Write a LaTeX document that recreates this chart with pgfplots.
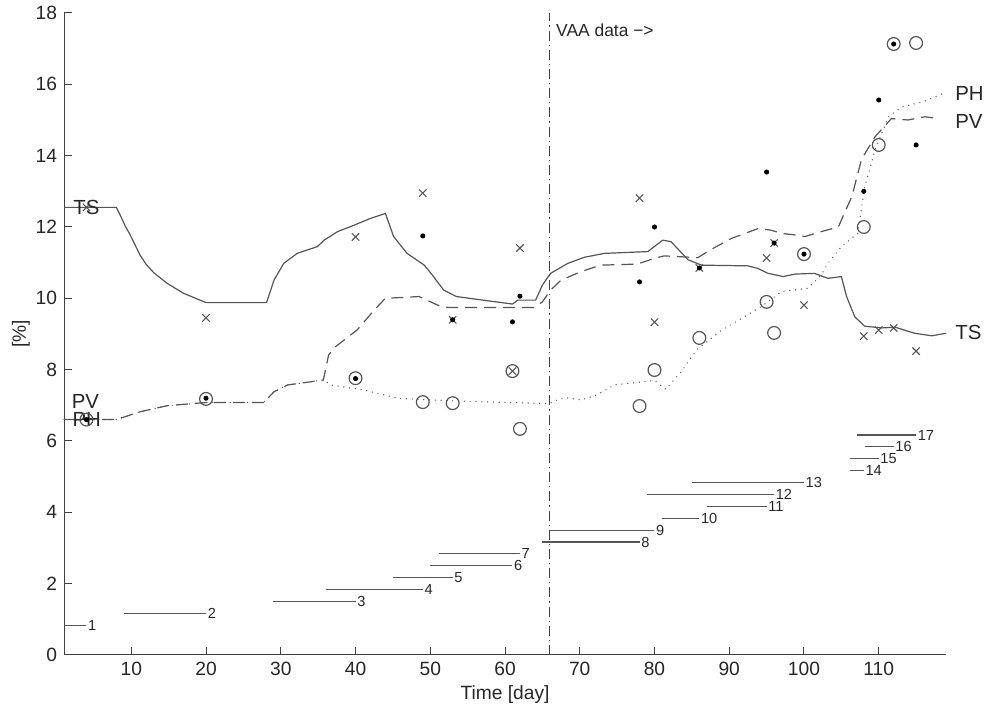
\documentclass[border=0pt]{standalone}
\usepackage{pgfplots}
\pgfplotsset{compat=1.18}
\usepackage{fontspec}
\setmainfont{Liberation Sans}
\definecolor{lc}{HTML}{555555}
\definecolor{ax}{HTML}{404040}
\tikzset{
  seg/.style={lc, line width=0.55pt},
  segl/.style={font=\fontsize{7.3}{9}\selectfont, anchor=west, inner sep=0.6pt, text=black!85},
  lab/.style={anchor=west, inner sep=0pt, font=\fontsize{10.2}{12}\selectfont, text=black!85},
}
\begin{document}
\begin{tikzpicture}
\useasboundingbox (0,0) rectangle (493pt,355pt);
\begin{axis}[
  at={(32pt,27.5pt)}, anchor=south west,
  scale only axis, width=441pt, height=321pt,
  xmin=1, xmax=119, ymin=0, ymax=18,
  axis x line*=bottom, axis y line*=left,
  axis line style={ax, line width=0.5pt},
  every tick/.style={ax, line width=0.5pt},
  tick align=inside, major tick length=4pt,
  xtick={10,20,...,110}, ytick={0,2,...,18},
  ticklabel style={font=\fontsize{9.6}{11}\selectfont, text=black!85},
  /pgf/number format/assume math mode=true,
  xlabel={Time [day]}, ylabel={[\%]},
  label style={font=\fontsize{9.6}{11}\selectfont, text=black!85},
  xlabel style={yshift=2pt},
  ylabel style={yshift=-4pt},
  clip=false,
]
% TS model
\addplot[lc, line width=0.6pt] coordinates {
(1,12.55) (8,12.55) (8.6,12.3) (9.2,12.02) (9.8,11.8) (10.5,11.5) (11.2,11.2) (12,10.95) (13,10.72) (14.8,10.42) (17,10.14) (20,9.88)
(28.1,9.88) (29.1,10.51) (30.4,10.98) (32.2,11.26) (34.9,11.45) (35.8,11.63) (37.6,11.87) (39.8,12.05)
(42,12.24) (44,12.38) (45.1,11.73) (46.9,11.26) (49.2,10.93) (50.1,10.7) (51.8,10.23) (53.5,10.05)
(56.3,9.97) (61,9.84) (61.7,9.95) (64.1,9.95) (65,10.37) (66.1,10.7) (68.4,10.98) (70.6,11.15)
(73.3,11.26) (79.1,11.31) (81.1,11.63) (82.2,11.59) (84.5,11.08) (86.3,10.93) (92.5,10.91) (93.8,10.84)
(95.2,10.7) (97.2,10.61) (98.8,10.68) (101.4,10.7) (103.2,10.56) (105,10.61) (105.7,10.05) (106.8,9.48)
(108.1,9.22) (110.4,9.17) (112.2,9.19) (114.8,9.02) (117.1,8.95) (119,9.02)
};
% PV model
\addplot[lc, line width=0.6pt, dash pattern=on 6pt off 3.5pt] coordinates {
(1,6.6) (8,6.6) (11.2,6.82) (14.8,6.99) (20.1,7.08) (27.7,7.08) (29.1,7.38) (30.9,7.57) (35.7,7.71)
(36.4,8.41) (37.3,8.64) (40.2,9.11) (42.5,9.67) (44,10.0) (48.5,10.05) (51.4,9.77) (52.7,9.74)
(63.9,9.74) (65,9.9) (66.1,10.23) (67.5,10.51) (70.2,10.75) (72.8,10.93) (77.7,10.96) (80,11.12)
(81.3,11.19) (85.8,11.14) (87.4,11.35) (90.3,11.68) (93.9,11.96) (95.6,11.91) (97,11.82) (98.7,11.78)
(100.1,11.73) (102.3,11.87) (104.6,12.0) (105.2,12.29) (106.4,12.85) (107.7,13.9) (109.5,14.53)
(111.7,15.04) (113.9,15.0) (116.2,15.09) (117.9,15.04)
};
% PH model
\addplot[lc, line width=0.7pt, line cap=round, dash pattern=on 0pt off 2.9pt] coordinates {
(1,6.6) (8,6.6) (11.2,6.82) (14.8,6.99) (20.1,7.08) (27.7,7.08) (29.1,7.38) (30.9,7.57) (35.7,7.71)
(36.7,7.57) (41.1,7.43) (45.6,7.2) (50.1,7.15) (56.8,7.1) (65.7,7.05) (67.9,7.22) (70.2,7.15)
(72.4,7.3) (74.6,7.57) (78,7.65) (80,7.7) (81.5,7.45) (83.6,7.95) (85.6,8.55) (89,9.11) (94.3,9.77)
(97,10.19) (100.5,10.28) (102.3,10.65) (103.2,10.98) (105,11.45) (107.2,11.82) (108.1,13.1)
(109.5,14.16) (111.3,15.09) (113.1,15.37) (115.8,15.5) (118.6,15.74)
};
% vertical separator
\addplot[black!75, line width=0.55pt, dash pattern=on 5pt off 2pt on 0.6pt off 2pt] coordinates {(66,0) (66,18)};
% measured TS (x)
\addplot[only marks, mark=x, mark size=2.6pt, mark options={lc, line width=0.55pt}] coordinates {
(4,12.55) (20,9.45) (40,11.72) (49,12.95) (53,9.4) (61,7.96) (62,11.41) (78,12.81) (80,9.33)
(86,10.85) (95,11.13) (96,11.55) (100,9.81) (108,8.94) (110,9.11) (112,9.17) (115,8.52)
};
% measured PH (o)
\addplot[only marks, mark=o, mark size=3.2pt, mark options={lc, line width=0.6pt}] coordinates {
(4,6.6) (20,7.18) (40,7.76) (49,7.09) (53,7.06) (61,7.96) (62,6.34) (78,6.98) (80,7.99)
(86,8.89) (95,9.9) (96,9.03) (100,11.24) (108,12.0) (110,14.3) (112,17.13) (115,17.16)
};
% measured PV (dot)
\addplot[only marks, mark=*, mark size=1.05pt, mark options={black}] coordinates {
(4,6.6) (20,7.2) (40,7.75) (49,11.75) (53,9.4) (61,9.34) (62,10.06) (78,10.46) (80,12.0)
(86,10.85) (95,13.54) (96,11.55) (100,11.24) (108,13.0) (110,15.56) (112,17.13) (115,14.3)
};
% sample intervals
\addplot[seg] coordinates {(1,0.8333) (4,0.8333)} node[segl, pos=1] {1};
\addplot[seg] coordinates {(9,1.1667) (20,1.1667)} node[segl, pos=1] {2};
\addplot[seg] coordinates {(29,1.5) (40,1.5)} node[segl, pos=1] {3};
\addplot[seg] coordinates {(36,1.8333) (49,1.8333)} node[segl, pos=1] {4};
\addplot[seg] coordinates {(45,2.1667) (53,2.1667)} node[segl, pos=1] {5};
\addplot[seg] coordinates {(50,2.5) (61,2.5)} node[segl, pos=1] {6};
\addplot[seg] coordinates {(51.2,2.8333) (62,2.8333)} node[segl, pos=1] {7};
\addplot[seg] coordinates {(65,3.1667) (78,3.1667)} node[segl, pos=1] {8};
\addplot[seg] coordinates {(66,3.5) (80,3.5)} node[segl, pos=1] {9};
\addplot[seg] coordinates {(81,3.8333) (86,3.8333)} node[segl, pos=1] {10};
\addplot[seg] coordinates {(87,4.1667) (95,4.1667)} node[segl, pos=1] {11};
\addplot[seg] coordinates {(79,4.5) (96,4.5)} node[segl, pos=1] {12};
\addplot[seg] coordinates {(85,4.8333) (100,4.8333)} node[segl, pos=1] {13};
\addplot[seg] coordinates {(106.2,5.1667) (108,5.1667)} node[segl, pos=1] {14};
\addplot[seg] coordinates {(106.2,5.5) (110,5.5)} node[segl, pos=1] {15};
\addplot[seg] coordinates {(108.1,5.8333) (112,5.8333)} node[segl, pos=1] {16};
\addplot[seg] coordinates {(107.1,6.1667) (115,6.1667)} node[segl, pos=1] {17};
% labels
\node[lab] at (axis cs:2.2,12.55) {TS};
\node[lab] at (axis cs:2.0,7.12) {PV};
\node[lab] at (axis cs:2.1,6.59) {PH};
\node[lab] at (axis cs:120.2,15.75) {PH};
\node[lab] at (axis cs:120.2,14.95) {PV};
\node[lab] at (axis cs:120.2,9.03) {TS};
\node[anchor=west, inner sep=0pt, font=\fontsize{8.7}{10}\selectfont, text=black!85] at (axis cs:66.8,17.52) {VAA data −>};
\end{axis}
\end{tikzpicture}
\end{document}
